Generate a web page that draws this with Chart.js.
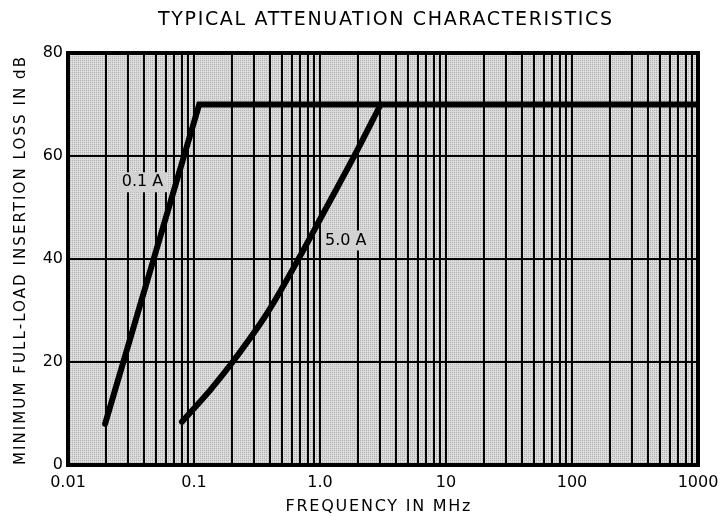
<!DOCTYPE html>
<html>
<head>
<meta charset="utf-8">
<script src="https://cdn.jsdelivr.net/npm/chart.js@4"></script>
<style>
  html, body { margin: 0; padding: 0; background: #fff; }
  #wrap { width: 728px; height: 516px; }
</style>
</head>
<body>
<div id="wrap"><canvas id="chart"></canvas></div>
<script>
// values
const decadeLabels = ['0.01', '0.1', '1.0', '10', '100', '1000'];
const decades = [0.01, 0.1, 1, 10, 100, 1000];

const lowCurrentFreq = [0.0197, 0.11, 1000];
const lowCurrentLoss = [8, 70, 70];

const highCurrentFreq = [0.0803, 0.135, 0.201, 0.381, 0.668, 1.13, 1.89, 3.03];
const highCurrentLoss = [8.4, 14.6, 19.9, 29.5, 39.8, 50.1, 60.2, 70];

const seriesNames = ['0.1 A', '5.0 A'];
const labelFreq = [0.039, 1.6];
const labelLoss = [54.9, 43.6];

const FONT = '"DejaVu Sans", sans-serif';

const toPoints = (xs, ys) => xs.map((x, i) => ({ x, y: ys[i] }));

// all 1..9 lines of each decade
const gridValues = [];
decades.slice(0, -1).forEach(d => {
  for (let m = 1; m <= 9; m++) gridValues.push(Number((m * d).toPrecision(3)));
});
gridValues.push(1000);

function makeTexture() {
  const c = document.createElement('canvas');
  c.width = 4; c.height = 4;
  const g = c.getContext('2d');
  g.fillStyle = '#d8d8d8';
  g.fillRect(0, 0, 4, 4);
  g.fillStyle = '#b2b2b2';
  g.fillRect(0, 0, 1, 1); g.fillRect(2, 2, 1, 1);
  g.fillRect(2, 0, 1, 1); g.fillRect(0, 2, 1, 1);
  g.fillStyle = '#e6e6e6';
  g.fillRect(1, 1, 1, 1); g.fillRect(3, 3, 1, 1);
  return c;
}

// draw text stretched with letter spacing to a given width
function spacedText(ctx, text, cx, cy, width) {
  ctx.letterSpacing = '0px';
  const plain = ctx.measureText(text).width;
  const gap = Math.max(0, (width - plain) / (text.length - 1));
  ctx.letterSpacing = gap + 'px';
  ctx.textAlign = 'left';
  ctx.fillText(text, cx - width / 2, cy);
  ctx.letterSpacing = '0px';
}

const paperPlugin = {
  id: 'paper',
  beforeDraw(chart) {
    const { ctx, chartArea: a } = chart;
    ctx.save();
    ctx.fillStyle = ctx.createPattern(makeTexture(), 'repeat');
    ctx.fillRect(a.left, a.top, a.right - a.left, a.bottom - a.top);
    ctx.restore();
  },
  afterDatasetsDraw(chart) {
    const { ctx, chartArea: a, scales } = chart;
    ctx.save();
    ctx.strokeStyle = '#000';
    ctx.lineWidth = 4;
    ctx.strokeRect(a.left, a.top, a.right - a.left, a.bottom - a.top);

    // curve labels
    ctx.font = '16px ' + FONT;
    ctx.textAlign = 'center';
    ctx.textBaseline = 'middle';
    seriesNames.forEach((name, i) => {
      const x = scales.x.getPixelForValue(labelFreq[i]);
      const y = scales.y.getPixelForValue(labelLoss[i]);
      const w = ctx.measureText(name).width + 8;
      ctx.fillStyle = '#d2d2d2';
      ctx.fillRect(x - w / 2, y - 10, w, 20);
      ctx.fillStyle = '#000';
      ctx.fillText(name, x, y);
    });

    // titles
    ctx.font = '19px ' + FONT;
    spacedText(ctx, 'TYPICAL ATTENUATION CHARACTERISTICS', 385, 20, 454);
    ctx.font = '16px ' + FONT;
    spacedText(ctx, 'FREQUENCY IN MHz', 378, 507, 185);
    ctx.translate(21, 261);
    ctx.rotate(-Math.PI / 2);
    ctx.font = '15px ' + FONT;
    spacedText(ctx, 'MINIMUM FULL-LOAD INSERTION LOSS IN dB', 0, 0, 408);
    ctx.restore();
  }
};

new Chart(document.getElementById('chart'), {
  type: 'line',
  data: {
    datasets: [
      {
        label: seriesNames[0],
        data: toPoints(lowCurrentFreq, lowCurrentLoss),
        borderColor: '#000',
        borderWidth: 6,
        borderCapStyle: 'round',
        borderJoinStyle: 'miter',
        pointRadius: 0,
        tension: 0
      },
      {
        label: seriesNames[1],
        data: toPoints(highCurrentFreq, highCurrentLoss),
        borderColor: '#000',
        borderWidth: 6,
        borderCapStyle: 'round',
        pointRadius: 0,
        cubicInterpolationMode: 'monotone'
      }
    ]
  },
  options: {
    responsive: true,
    maintainAspectRatio: false,
    animation: false,
    layout: { padding: { left: 0, right: 30, top: 53, bottom: 0 } },
    plugins: {
      legend: { display: false },
      title: { display: false },
      tooltip: { enabled: false }
    },
    scales: {
      x: {
        type: 'logarithmic',
        min: 0.01,
        max: 1000,
        afterBuildTicks(scale) {
          scale.ticks = gridValues.map(v => ({ value: v }));
        },
        afterFit(scale) { scale.height = 51; },
        grid: { color: '#000', lineWidth: 2, drawTicks: false },
        border: { display: false },
        ticks: {
          autoSkip: false,
          maxRotation: 0,
          padding: 8,
          color: '#000',
          font: { family: FONT, size: 16 },
          callback(value) {
            const i = decades.findIndex(d => Math.abs(d - value) < d * 1e-6);
            return i >= 0 ? decadeLabels[i] : '';
          }
        }
      },
      y: {
        min: 0,
        max: 80,
        afterFit(scale) { scale.width = 68; },
        grid: { color: '#000', lineWidth: 2, drawTicks: false },
        border: { display: false },
        ticks: {
          stepSize: 20,
          padding: 5,
          color: '#000',
          font: { family: FONT, size: 16 }
        }
      }
    }
  },
  plugins: [paperPlugin]
});
</script>
</body>
</html>
